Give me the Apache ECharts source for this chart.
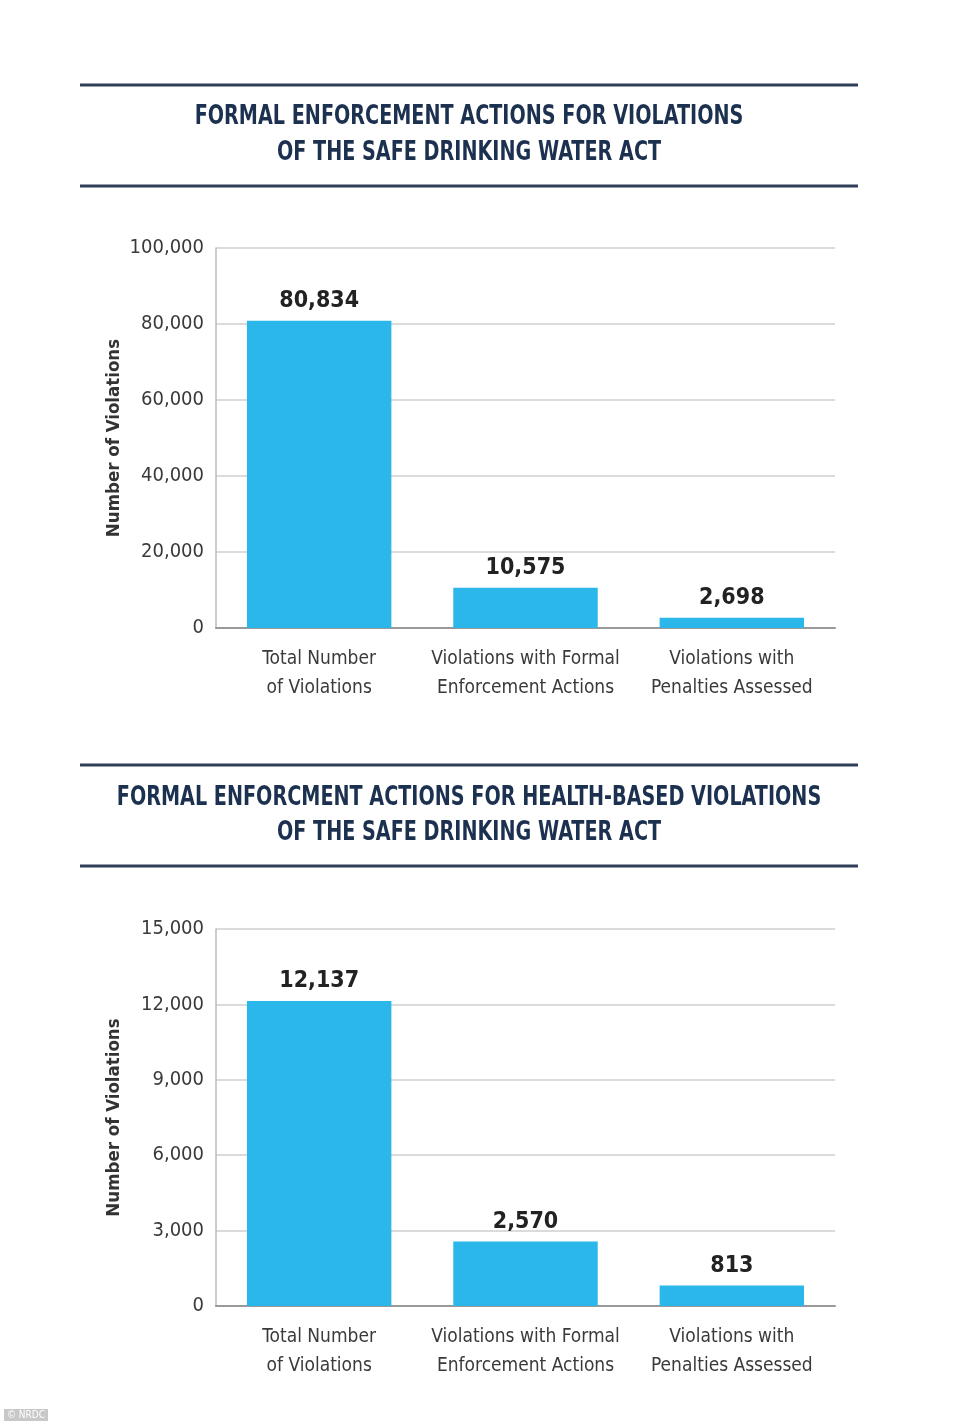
<!DOCTYPE html>
<html>
<head>
<meta charset="utf-8">
<script src="https://cdn.jsdelivr.net/npm/echarts@6/dist/echarts.min.js"></script>
<style>
html,body{margin:0;padding:0;background:#fff;}
#c{width:962px;height:1423px;}
</style>
</head>
<body>
<div id="c"></div>
<script>
const categories = ["Total Number\nof Violations", "Violations with Formal\nEnforcement Actions", "Violations with\nPenalties Assessed"];
const allValues = [80834, 10575, 2698];
const healthValues = [12137, 2570, 813];
const title1 = ["FORMAL ENFORCEMENT ACTIONS FOR VIOLATIONS", "OF THE SAFE DRINKING WATER ACT"];
const title2 = ["FORMAL ENFORCMENT ACTIONS FOR HEALTH-BASED VIOLATIONS", "OF THE SAFE DRINKING WATER ACT"];
const axisName = "Number of Violations";

const FONT = "'Liberation Sans Narrow', 'DejaVu Sans Condensed', sans-serif";
const NAVY = "#1c3150";
const BAR = "#2bb7ea";

function fmt(v){ return v.toLocaleString('en-US'); }

const chart = echarts.init(document.getElementById('c'), null, {renderer:'canvas'});

function titleGraphics(topRule, bottomRule, lines, y1, y2){
  return [
    {type:'rect', shape:{x:80,y:topRule-1.5,width:778,height:3}, style:{fill:'#2e3f57'}},
    {type:'rect', shape:{x:80,y:bottomRule-1.5,width:778,height:3}, style:{fill:'#2e3f57'}},
    {type:'text', x:469, y:y1, scaleX:0.79, style:{text:lines[0], fill:NAVY, font:"bold 27px " + FONT, textAlign:'center', textVerticalAlign:'middle'}},
    {type:'text', x:469, y:y2, scaleX:0.79, style:{text:lines[1], fill:NAVY, font:"bold 27px " + FONT, textAlign:'center', textVerticalAlign:'middle'}}
  ];
}

function yAxisCfg(gridIndex, max, interval){
  return {
    type:'value', gridIndex, min:0, max, interval,
    name: axisName, nameLocation:'middle', nameRotate:90, nameGap:92, nameMoveOverlap:false,
    nameTextStyle:{fontFamily:FONT, fontWeight:'bold', fontSize:18.5, color:'#333'},
    axisLine:{show:true, lineStyle:{color:'#bbb', width:1.5}},
    axisTick:{show:false},
    axisLabel:{fontFamily:FONT, fontSize:20, color:'#3a3a3a', margin:12, formatter:v=>fmt(v)},
    splitLine:{show:true, lineStyle:{color:'#cfcfcf', width:1.5}}
  };
}
function xAxisCfg(gridIndex){
  return {
    type:'category', gridIndex, data:categories,
    axisLine:{show:true, lineStyle:{color:'#999', width:2}},
    axisTick:{show:false},
    axisLabel:{fontFamily:FONT, fontSize:19, color:'#3a3a3a', lineHeight:29, margin:17, interval:0}
  };
}
function seriesCfg(idx, data){
  return {
    type:'bar', xAxisIndex:idx, yAxisIndex:idx, data, barWidth:'70%',
    itemStyle:{color:BAR},
    label:{show:true, position:'top', distance:8, fontFamily:FONT, fontWeight:'bold', fontSize:23, color:'#222', formatter:p=>fmt(p.value)},
    silent:true
  };
}

chart.setOption({
  animation:false,
  backgroundColor:'#fff',
  grid:[
    {left:216, right:127, top:248, height:380},
    {left:216, right:127, top:929, height:377}
  ],
  xAxis:[xAxisCfg(0), xAxisCfg(1)],
  yAxis:[yAxisCfg(0, 100000, 20000), yAxisCfg(1, 15000, 3000)],
  series:[seriesCfg(0, allValues), seriesCfg(1, healthValues)],
  graphic:[
    ...titleGraphics(85, 186, title1, 117, 153),
    ...titleGraphics(765, 866, title2, 798, 833),
    {type:'text', left:4, top:1409, style:{text:'© NRDC', fill:'#fff', font:"10px " + FONT, backgroundColor:'#c8c8c8', padding:[1,3]}}
  ]
});
</script>
</body>
</html>
